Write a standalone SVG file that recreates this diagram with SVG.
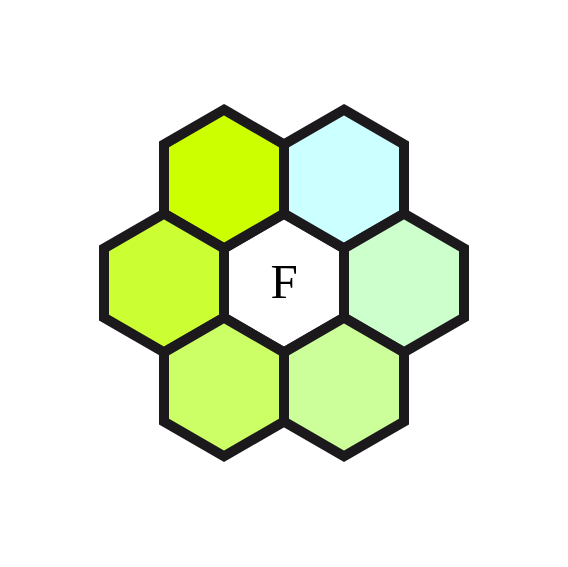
<svg xmlns="http://www.w3.org/2000/svg" width="568" height="567" viewBox="0 0 568 567">
<defs>
<style>
.hex{stroke:#1b191c;stroke-width:10;stroke-linejoin:miter}
.lbl{font-family:"Liberation Serif",serif;font-size:49px;fill:#000;text-anchor:middle}
</style>
<polygon id="h" points="0,-69.3 60,-34.64 60,34.64 0,69.3 -60,34.64 -60,-34.64"/>
</defs>
<rect width="568" height="567" fill="#fff"/>
<g id="connectors"></g>
<g id="hex-center" transform="translate(284,283)"><use href="#h" class="hex" fill="#ffffff"/><text class="lbl" x="0" y="15">F</text></g>
<g id="hex-tl" transform="translate(224,179)"><use href="#h" class="hex" fill="#ccff00"/></g>
<g id="hex-tr" transform="translate(344,179)"><use href="#h" class="hex" fill="#ccffff"/></g>
<g id="hex-l" transform="translate(164,283)"><use href="#h" class="hex" fill="#ccff33"/></g>
<g id="hex-r" transform="translate(404,283)"><use href="#h" class="hex" fill="#ccffcc"/></g>
<g id="hex-bl" transform="translate(224,387)"><use href="#h" class="hex" fill="#ccff66"/></g>
<g id="hex-br" transform="translate(344,387)"><use href="#h" class="hex" fill="#ccff99"/></g>
</svg>
